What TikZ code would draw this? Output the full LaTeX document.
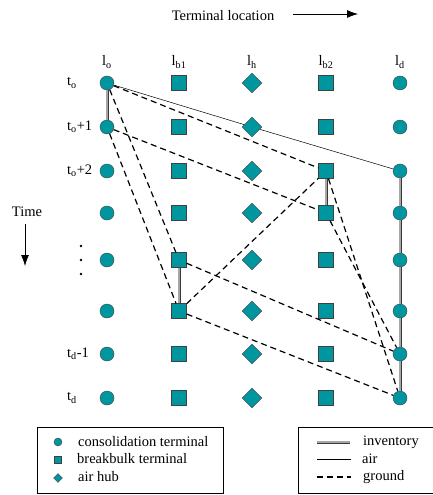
\documentclass[tikz,border=0pt]{standalone}
\usepackage{fontspec}
\setmainfont{Liberation Serif}
\usetikzlibrary{shapes.geometric,arrows.meta}
\definecolor{termteal}{RGB}{0,150,160}
\tikzset{
    consol/.style={circle, draw=black!75, fill=termteal, inner sep=0pt, minimum size=14pt},
    breakb/.style={rectangle, draw=black!75, fill=termteal, inner sep=0pt, minimum size=15pt},
    airhub/.style={diamond, draw=black!75, fill=termteal, inner sep=0pt, minimum size=20pt},
    inventory/.style={draw=gray!45!black, double=gray!70, double distance=1.2pt, line width=0.9pt},
    airlink/.style={draw=black, line width=0.5pt},
    groundlink/.style={draw=black, line width=1.2pt, dash pattern=on 6pt off 4pt},
    axisarrow/.style={-{Latex[length=11pt,width=8pt]}, line width=0.8pt},
    lbl/.style={font=\fontsize{14.5}{16}\selectfont, inner sep=0pt}
}
\begin{document}
\begin{tikzpicture}[x=1pt, y=-1pt]
        \useasboundingbox (0,0) rectangle (433,495);
        % header and time axis
        \node[lbl] (head) at (223,16) {Terminal location};
        \coordinate (headA) at (293,14);
        \coordinate (headB) at (358,14);
        \draw[axisarrow] (headA) -- (headB);
        \node[lbl] (time) at (27,212) {Time};
        \coordinate (timeA) at (25,224);
        \coordinate (timeB) at (25,266);
        \draw[axisarrow] (timeA) -- (timeB);
        \foreach \y [count=\k] in {246,260,274}
            \fill (81,\y) coordinate (dot\k) circle (1.4pt);
        % column labels
        \foreach \x/\sub/\nm in {107/o/o, 179/b1/ba, 252/h/h, 326/b2/bb, 400/d/d}
            \node[lbl] (lab\nm) at (\x,62) {l\textsubscript{\sub}};
        % row labels
        \foreach \y/\txt [count=\i from 0] in {83/t\textsubscript{o}, 127/t\textsubscript{o}+1,
            171/t\textsubscript{o}+2, 398/t\textsubscript{d}}
            \node[lbl, anchor=west] (row\i) at (67,\y) {\txt};
        \node[lbl, anchor=west] (rowtd) at (67,354) {t\textsubscript{d}-1};
        % terminal grid
        \foreach \y [count=\i from 0] in {83,127,171,213,260,311,354,398} {
            \node[consol] (o\i) at (107,\y) {};
            \node[breakb] (ba\i) at (179,\y) {};
            \node[airhub] (h\i) at (252,\y) {};
            \node[breakb] (bb\i) at (326,\y) {};
            \node[consol] (d\i) at (400,\y) {};
        }
        % inventory
        \draw[inventory] (o0) -- (o1);
        \draw[inventory] (bb2) -- (bb3);
        \draw[inventory] (ba4) -- (ba5);
        \draw[inventory] (d2) -- (d3);
        \draw[inventory] (d3) -- (d4);
        \draw[inventory] (d4) -- (d5);
        \draw[inventory] (d5) -- (d6);
        \draw[inventory] (d6) -- (d7);
        % air
        \draw[airlink] (o0) -- (h1) -- (d2);
        % ground
        \foreach \a/\b in {o0/bb2, o0/ba4, o1/bb3, o1/ba5, ba4/d6, ba5/bb2, ba5/d7, bb2/d7, bb3/d6}
            \draw[groundlink] (\a) -- (\b);
        % legends
        \draw[line width=0.6pt] (37,427) rectangle (223,493);
        \draw[line width=0.6pt] (298,427) rectangle (434,493);
        \node[consol, minimum size=8pt] (legc) at (58,442) {};
        \node[breakb, minimum size=7pt] (legb) at (58,460) {};
        \node[airhub, minimum size=9pt] (legh) at (58,478) {};
        \node[lbl, anchor=west] (txtc) at (78,442) {consolidation terminal};
        \node[lbl, anchor=west] (txtb) at (77,459) {breakbulk terminal};
        \node[lbl, anchor=west] (txth) at (78,477) {air hub};
        \coordinate (invA) at (317,442); \coordinate (invB) at (350,442);
        \coordinate (airA) at (317,459); \coordinate (airB) at (351,459);
        \coordinate (grdA) at (317,477); \coordinate (grdB) at (351,477);
        \draw[inventory] (invA) -- (invB);
        \draw[airlink] (airA) -- (airB);
        \draw[groundlink] (grdA) -- (grdB);
        \node[lbl, anchor=west] (txti) at (363,442) {inventory};
        \node[lbl, anchor=west] (txta) at (362,459) {air};
        \node[lbl, anchor=west] (txtg) at (363,477) {ground};
    \end{tikzpicture}
\end{document}
